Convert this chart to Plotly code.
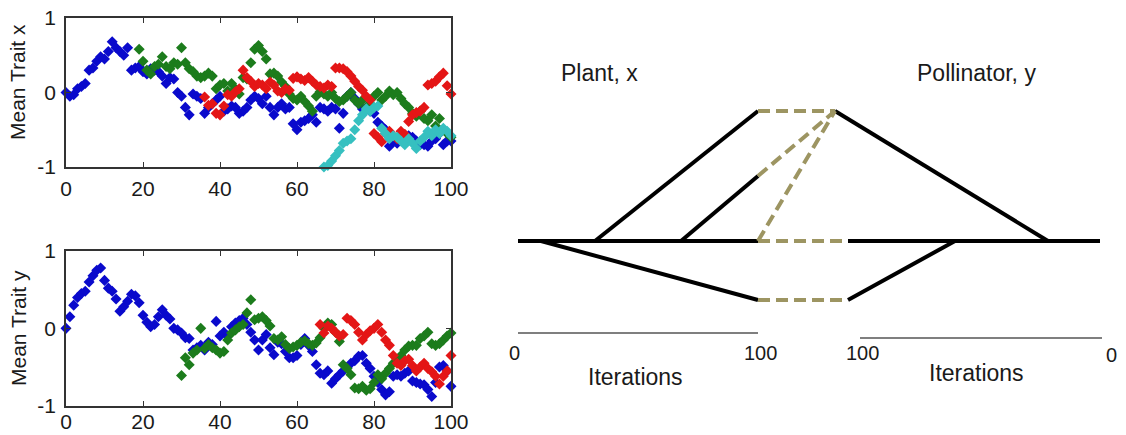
import plotly.graph_objects as go

W, H = 1126, 435

# ---- Mean trait trajectories (one value per iteration) ----
x_blue_start = 0
x_blue = [0.00, -0.05, -0.03, 0.05, 0.08, 0.12, 0.30, 0.33, 0.42, 0.48,
          0.45, 0.55, 0.68, 0.60, 0.55, 0.50, 0.60, 0.30, 0.33, 0.35,
          0.28, 0.25, 0.32, 0.30, 0.28, 0.22, 0.12, 0.20, 0.18, 0.00,
          -0.05, -0.20, -0.30, -0.02, -0.05, -0.08, -0.28, -0.20, -0.15, -0.10,
          -0.05, -0.25, -0.22, -0.18, -0.20, -0.28, -0.25, -0.20, -0.10, -0.05,
          -0.08, -0.15, -0.05, -0.20, -0.30, -0.20, -0.15, -0.22, -0.20, -0.42,
          -0.50, -0.40, -0.38, -0.35, -0.30, -0.40, -0.20, -0.22, -0.25, -0.20,
          -0.22, -0.48, -0.28, -0.05, 0.00, -0.08, -0.15, -0.22, -0.20, -0.25,
          -0.28, -0.40, -0.45, -0.50, -0.72, -0.65, -0.68, -0.60, -0.65, -0.58,
          -0.60, -0.65, -0.70, -0.70, -0.72, -0.65, -0.62, -0.55, -0.70, -0.65,
          -0.65]

x_green_start = 19
x_green = [0.58, 0.42, 0.30, 0.25, 0.35, 0.38, 0.48, 0.35, 0.32, 0.40,
           0.38, 0.60, 0.40, 0.32, 0.28, 0.22, 0.20, 0.22, 0.26, 0.22,
           0.05, 0.10, 0.12, 0.02, 0.12, 0.05, -0.02, 0.20, 0.18, 0.40,
           0.58, 0.63, 0.55, 0.45, 0.25, 0.26, 0.22, 0.14, 0.08, -0.02,
           -0.08, -0.10, -0.05, -0.12, -0.18, -0.25, -0.05, 0.01, -0.02, -0.05,
           0.00, -0.08, -0.12, -0.10, -0.05, 0.00, -0.10, -0.15, -0.10, -0.20,
           -0.15, -0.05, 0.00, -0.10, -0.05, 0.02, -0.03, 0.00, -0.08, -0.15,
           -0.20, -0.28, -0.32, -0.25, -0.35, -0.38, -0.30, -0.45, -0.35, -0.50,
           -0.55, -0.60]

x_red_start = 36
x_red = [-0.06, -0.17, -0.15, -0.28, -0.30, -0.18, -0.03, -0.05, 0.01, 0.05,
         0.30, 0.20, 0.15, 0.08, 0.12, 0.10, 0.05, 0.14, 0.10, 0.02,
         0.00, 0.05, 0.03, 0.19, 0.21, 0.18, 0.16, 0.20, 0.15, 0.10,
         0.08, 0.06, 0.10, 0.08, 0.33, 0.33, 0.32, 0.28, 0.22, 0.15,
         0.08, 0.03, -0.05, -0.10, -0.55, -0.60, -0.66, -0.55, -0.52, -0.58,
         -0.62, -0.52, -0.56, -0.39, -0.30, -0.27, -0.25, -0.20, 0.10, 0.12,
         0.15, 0.21, 0.26, 0.09, -0.02]

x_cyan_start = 67
x_cyan = [-1.00, -0.98, -0.92, -0.85, -0.78, -0.68, -0.65, -0.62, -0.50, -0.38,
          -0.30, -0.22, -0.25, -0.20, -0.18, -0.48, -0.55, -0.62, -0.58, -0.60,
          -0.65, -0.70, -0.62, -0.68, -0.75, -0.65, -0.60, -0.52, -0.58, -0.50,
          -0.55, -0.48, -0.52, -0.58]

y_blue_start = 0
y_blue = [0.00, 0.15, 0.30, 0.40, 0.45, 0.48, 0.60, 0.68, 0.75, 0.78,
          0.62, 0.52, 0.48, 0.38, 0.22, 0.28, 0.35, 0.44, 0.42, 0.33,
          0.17, 0.08, 0.02, 0.05, 0.15, 0.24, 0.17, 0.12, 0.00, -0.02,
          -0.06, -0.12, -0.13, -0.28, -0.25, -0.22, -0.28, -0.18, -0.21, 0.09,
          -0.10, -0.05, -0.10, 0.02, 0.07, 0.10, 0.13, 0.05, -0.05, -0.15,
          -0.28, -0.15, -0.08, -0.25, -0.34, -0.18, -0.20, -0.30, -0.38, -0.38,
          -0.35, -0.21, -0.13, -0.22, -0.30, -0.47, -0.58, -0.60, -0.55, -0.71,
          -0.65, -0.60, -0.55, -0.51, -0.45, -0.42, -0.36, -0.35, -0.45, -0.52,
          -0.62, -0.70, -0.79, -0.86, -0.82, -0.62, -0.60, -0.62, -0.58, -0.55,
          -0.68, -0.70, -0.72, -0.73, -0.79, -0.88, -0.70, -0.50, -0.48, -0.55,
          -0.75]

y_green_start = 30
y_green = [-0.61, -0.38, -0.47, -0.32, -0.28, 0.00, -0.26, -0.21, -0.25, -0.28,
           -0.32, -0.30, -0.15, -0.06, -0.02, 0.02, 0.05, 0.20, 0.37, 0.11,
           0.13, 0.15, 0.10, 0.03, -0.13, -0.15, -0.11, -0.21, -0.26, -0.24,
           -0.22, -0.18, -0.16, -0.20, -0.22, -0.19, -0.12, 0.00, 0.07, 0.05,
           -0.05, -0.17, -0.47, -0.52, -0.60, -0.77, -0.78, -0.75, -0.80, -0.78,
           -0.70, -0.60, -0.65, -0.58, -0.52, -0.45, -0.40, -0.35, -0.28, -0.23,
           -0.22, -0.22, -0.13, -0.10, -0.05, -0.20, -0.22, -0.20, -0.15, -0.10,
           -0.06]

y_red_start = 66
y_red = [0.05, -0.06, 0.03, 0.00, -0.05, -0.10, -0.08, 0.13, 0.10, 0.05,
         -0.05, -0.15, -0.08, -0.03, 0.00, 0.05, -0.05, -0.15, -0.22, -0.35,
         -0.45, -0.48, -0.42, -0.40, -0.48, -0.55, -0.50, -0.45, -0.52, -0.56,
         -0.62, -0.72, -0.62, -0.55, -0.35]

axis_ticks_x = [0, 20, 40, 60, 80, 100]
axis_ticks_y = [-1, 0, 1]
axis_ticktext_y = ["-1", "0", "1"]

# ---- Schematic of branching lineages (diagram units) ----
solid_segments = [
    ((518, 241), (758, 241)),
    ((848, 241), (1100, 241)),
    ((595, 241), (758, 111)),
    ((681, 241), (758, 176)),
    ((541, 241), (758, 300)),
    ((835, 111), (1048, 241)),
    ((848, 300), (955, 241)),
]
dashed_segments = [
    ((758, 111), (835, 111)),
    ((758, 176), (835, 111)),
    ((758, 241), (835, 111)),
    ((758, 241), (848, 241)),
    ((758, 300), (848, 300)),
]
time_axes = [
    ((518, 333), (758, 333)),
    ((860, 338), (1102, 338)),
]
diagram_labels = [
    ("Plant, x", 599, 73, 23),
    ("Pollinator, y", 976, 73, 23),
    ("0", 514, 353, 20),
    ("100", 760, 353, 20),
    ("Iterations", 635, 377, 23),
    ("100", 862, 353, 20),
    ("Iterations", 976, 373, 23),
    ("0", 1111, 355, 20),
]

COLORS = {"blue": "#0a0acc", "green": "#1c7c1c", "red": "#e41616", "cyan": "#36c0c0"}
FONT = "Liberation Sans, Arial, sans-serif"
TXT = "#1a1a1a"

fig = go.Figure()


def add_series(vals, start, color, xa, ya):
    fig.add_trace(go.Scatter(
        x=list(range(start, start + len(vals))), y=vals,
        mode="markers", xaxis=xa, yaxis=ya, cliponaxis=False,
        marker=dict(symbol="diamond", size=8.5, color=color, line=dict(width=0)),
        showlegend=False, hoverinfo="skip"))


add_series(x_blue, x_blue_start, COLORS["blue"], "x", "y")
add_series(x_green, x_green_start, COLORS["green"], "x", "y")
add_series(x_red, x_red_start, COLORS["red"], "x", "y")
add_series(x_cyan, x_cyan_start, COLORS["cyan"], "x", "y")

add_series(y_blue, y_blue_start, COLORS["blue"], "x2", "y2")
add_series(y_green, y_green_start, COLORS["green"], "x2", "y2")
add_series(y_red, y_red_start, COLORS["red"], "x2", "y2")


def seg_trace(seg, color, width, dash):
    (x0, y0), (x1, y1) = seg
    fig.add_trace(go.Scatter(
        x=[x0, x1], y=[y0, y1], mode="lines", xaxis="x3", yaxis="y3",
        line=dict(color=color, width=width, dash=dash),
        showlegend=False, hoverinfo="skip"))


for s in time_axes:
    seg_trace(s, "#555555", 1.5, "solid")
for s in solid_segments:
    seg_trace(s, "#000000", 4, "solid")
for s in dashed_segments:
    seg_trace(s, "#9d9562", 4, "12px,6px")

frame = dict(ticks="inside", ticklen=5, tickcolor="#333", showline=True,
             linecolor="#333", linewidth=1.5, mirror="ticks", showgrid=False,
             zeroline=False, automargin=False,
             tickfont=dict(family=FONT, size=21, color=TXT))
common_y = dict(range=[-1, 1], tickvals=axis_ticks_y, ticktext=axis_ticktext_y,
                ticklabelstandoff=4, **frame)

xd = [66 / W, 451 / W]
fig.update_layout(
    width=W, height=H, autosize=False,
    margin=dict(l=0, r=0, t=0, b=0),
    paper_bgcolor="white", plot_bgcolor="white",
    xaxis=dict(domain=xd, anchor="y", range=[0, 100], tickvals=axis_ticks_x,
               ticklabelstandoff=2, **frame),
    yaxis=dict(domain=[1 - 167 / H, 1 - 18 / H], anchor="x", **common_y),
    xaxis2=dict(domain=xd, anchor="y2", range=[0, 100], tickvals=axis_ticks_x,
                ticklabelstandoff=-4, **frame),
    yaxis2=dict(domain=[1 - 405.7 / H, 1 - 251 / H], anchor="x2", **common_y),
    xaxis3=dict(domain=[500 / W, 1], range=[500, W], visible=False,
                automargin=False, anchor="y3"),
    yaxis3=dict(domain=[0, 1], range=[H, 0], visible=False,
                automargin=False, anchor="x3"),
)

# axis titles of the trait panels
for title, yc in (("Mean Trait x", 82), ("Mean Trait y", 328)):
    fig.add_annotation(text=title, xref="paper", yref="paper",
                       x=18 / W, y=1 - yc / H, xanchor="center", yanchor="middle",
                       textangle=-90, showarrow=False,
                       font=dict(family=FONT, size=21, color=TXT))

for txt, tx, ty, fs in diagram_labels:
    fig.add_annotation(text=txt, x=tx, y=ty, xref="x3", yref="y3", showarrow=False,
                       xanchor="center", yanchor="middle",
                       font=dict(family=FONT, size=fs, color=TXT))

fig.write_html("out.html")
